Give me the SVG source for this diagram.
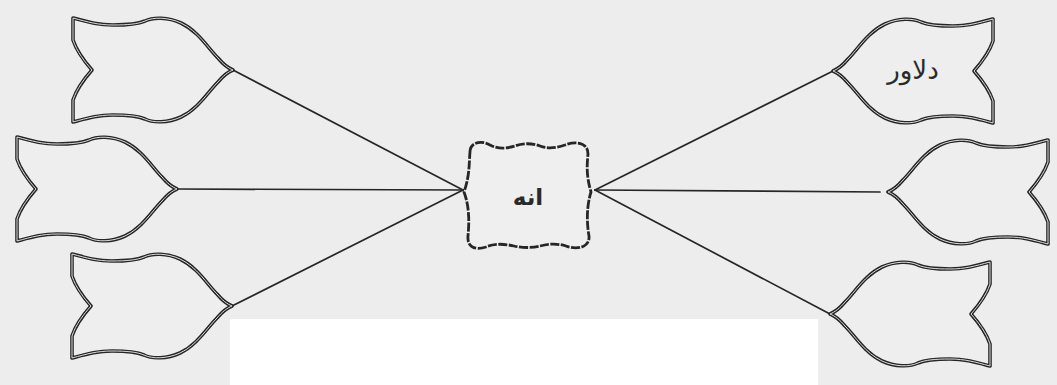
<svg xmlns="http://www.w3.org/2000/svg" xmlns:xlink="http://www.w3.org/1999/xlink" width="1057" height="385" viewBox="0 0 1057 385">
<style>
.o{fill:#eeeeee;stroke:#262626;stroke-width:3.6;stroke-linejoin:round}
.i{fill:none;stroke:#dcdcdc;stroke-width:1}
.c{stroke:#262626;stroke-width:1.7;fill:none;stroke-linecap:round}
.box{fill:#efefef;stroke:#262626;stroke-width:2.8;stroke-dasharray:9 1.5}
.t{font-family:"DejaVu Sans",sans-serif;fill:#2a2a2a;text-anchor:middle}
</style>
<defs>
<path id="tulip" d="M 0 -52 C 15 -48, 25 -45, 40 -45 C 55 -45, 65 -46, 72 -49 C 80 -53, 95 -53, 108 -47 C 125 -39, 135 -22, 145 -12 C 150 -6, 155 -2, 160 0 C 155 2, 150 6, 145 12 C 135 22, 125 39, 108 47 C 95 53, 80 53, 72 49 C 65 46, 55 45, 40 45 C 25 45, 15 48, 0 52 L 0 30 C 4 18, 12 8, 19 0 C 12 -8, 4 -18, 0 -30 Z"/>
</defs>
<rect x="0" y="0" width="1057" height="385" fill="#ededed"/>
<g id="connectors">
<line class="c" x1="233" y1="70" x2="463" y2="190"/>
<line class="c" x1="177" y1="189" x2="463" y2="190"/>
<line class="c" x1="232" y1="306" x2="463" y2="190"/>
<line class="c" x1="833" y1="71" x2="595" y2="190"/>
<line class="c" x1="880" y1="192" x2="595" y2="190"/>
<line class="c" x1="830" y1="314" x2="595" y2="190"/>
</g>
<g id="tulip-tl" transform="translate(73,70)"><use href="#tulip" class="o"/><use href="#tulip" class="i"/></g>
<g id="tulip-ml" transform="translate(17,189)"><use href="#tulip" class="o"/><use href="#tulip" class="i"/></g>
<g id="tulip-bl" transform="translate(72,306)"><use href="#tulip" class="o"/><use href="#tulip" class="i"/></g>
<g id="tulip-tr"><g transform="translate(993,71) scale(-1,1)"><use href="#tulip" class="o"/><use href="#tulip" class="i"/></g><text class="t" x="913" y="79" font-size="26">دلاور</text></g>
<g id="tulip-mr" transform="translate(1048,192) scale(-1,1)"><use href="#tulip" class="o"/><use href="#tulip" class="i"/></g>
<g id="tulip-br" transform="translate(990,314) scale(-1,1)"><use href="#tulip" class="o"/><use href="#tulip" class="i"/></g>
<g id="center">
<path class="box" d="M 470 152 C 470 142, 482 140, 490 145 C 500 150, 508 148, 515 146 C 522 143, 532 143, 540 146 C 548 149, 556 148, 565 145 C 575 141, 588 142, 588 154 C 587 165, 586 175, 591 192 C 586 208, 587 225, 589 236 C 590 248, 576 250, 566 246 C 556 243, 548 244, 540 246 C 532 248, 522 248, 514 246 C 505 244, 495 243, 486 247 C 474 251, 467 246, 468 236 C 469 225, 470 208, 464 192 C 470 175, 469 162, 470 152 Z"/>
<text class="t" x="528" y="205" font-size="23" font-weight="bold">انه</text>
</g>
<rect x="230" y="319" width="588" height="66" fill="#ffffff"/>
</svg>
